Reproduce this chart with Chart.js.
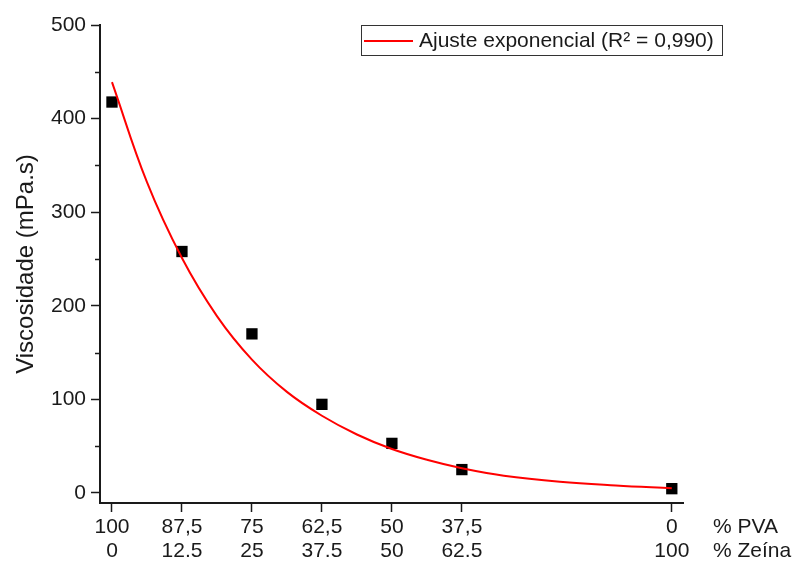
<!DOCTYPE html>
<html>
<head>
<meta charset="utf-8">
<script src="https://cdn.jsdelivr.net/npm/chart.js@4"></script>
<style>
  html, body { margin: 0; padding: 0; background: #fff; }
  #wrap { width: 794px; height: 562px; }
</style>
</head>
<body>
<div id="wrap"><canvas id="viscChart" width="794" height="562"></canvas></div>
<script>
// measured points (% Zeína on x)
const zeina = [0, 12.5, 25, 37.5, 50, 62.5, 100];
const pvaLabels = ['100', '87,5', '75', '62,5', '50', '37,5', '0'];
const zeinaLabels = ['0', '12.5', '25', '37.5', '50', '62.5', '100'];
const viscosity = [417.7, 258, 170, 94.7, 53, 25, 4.6];

// fitted curve
const fitX = [0, 6.25, 12.5, 18.75, 25, 31.25, 37.5, 43.75, 50, 56.25, 62.5, 70, 80, 90, 100];
const fitY = [439, 332, 251, 189, 142.5, 108, 82.5, 62.5, 47, 35.5, 26.5, 18.5, 12, 8, 5];

const yTicks = [0, 100, 200, 300, 400, 500];
const yMinorTicks = [50, 150, 250, 350, 450];

const fitLabel = 'Ajuste exponencial (R\u00b2 = 0,990)';
const fontFamily = '"Liberation Sans", Arial, sans-serif';
const axisColor = '#1a1a1a';

const extras = {
    id: 'extras',
    afterDraw(chart) {
        const c = chart.ctx;
        const ys = chart.scales.y;
        const area = chart.chartArea;
        c.save();
        // minor ticks on y
        c.strokeStyle = axisColor;
        c.lineWidth = 1.5;
        yMinorTicks.forEach(v => {
            const py = Math.round(ys.getPixelForValue(v)) + 0.5;
            c.beginPath();
            c.moveTo(area.left - 5, py);
            c.lineTo(area.left, py);
            c.stroke();
        });
        // row names right of the x axis
        c.fillStyle = axisColor;
        c.font = '21px ' + fontFamily;
        c.textAlign = 'left';
        c.textBaseline = 'middle';
        c.fillText('% PVA', area.right + 30, 527);
        c.fillText('% Ze\u00edna', area.right + 30, 551);
        // legend box
        const bx = 361, by = 25, bw = 361, bh = 30;
        c.strokeStyle = '#333';
        c.lineWidth = 1;
        c.strokeRect(bx + 0.5, by + 0.5, bw, bh);
        c.strokeStyle = '#ff0000';
        c.lineWidth = 2;
        c.beginPath();
        c.moveTo(bx + 3, by + 16);
        c.lineTo(bx + 52, by + 16);
        c.stroke();
        c.fillStyle = axisColor;
        c.fillText(fitLabel, bx + 58, by + 16);
        c.restore();
    }
};

const ctx = document.getElementById('viscChart');

new Chart(ctx, {
    type: 'scatter',
    data: {
        datasets: [
            {
                label: fitLabel,
                type: 'line',
                data: fitX.map((x, i) => ({ x: x, y: fitY[i] })),
                borderColor: '#ff0000',
                borderWidth: 2,
                pointRadius: 0,
                tension: 0.4,
                fill: false
            },
            {
                label: 'Viscosidade',
                data: zeina.map((x, i) => ({ x: x, y: viscosity[i] })),
                pointStyle: 'rect',
                pointRadius: 8,
                pointHoverRadius: 8,
                backgroundColor: '#000',
                borderColor: '#000',
                borderWidth: 0
            }
        ]
    },
    options: {
        responsive: false,
        animation: false,
        layout: { padding: { top: 25, right: 111, left: 0, bottom: 0 } },
        plugins: {
            legend: { display: false },
            tooltip: { enabled: false }
        },
        scales: {
            x: {
                type: 'linear',
                min: -2.14,
                max: 102,
                afterBuildTicks: (scale) => {
                    scale.ticks = zeina.map(v => ({ value: v }));
                },
                afterFit: (scale) => { scale.height = 59; },
                border: { color: axisColor, width: 2 },
                grid: { drawOnChartArea: false, tickLength: 9, tickWidth: 1.5, color: axisColor },
                ticks: {
                    autoSkip: false,
                    maxRotation: 0,
                    padding: 3,
                    color: axisColor,
                    font: { family: fontFamily, size: 21, lineHeight: 1.15 },
                    callback: (v) => {
                        const i = zeina.indexOf(v);
                        return i < 0 ? '' : [pvaLabels[i], zeinaLabels[i]];
                    }
                }
            },
            y: {
                min: -10.7,
                max: 500,
                afterBuildTicks: (scale) => {
                    scale.ticks = yTicks.map(v => ({ value: v }));
                },
                afterFit: (scale) => { scale.width = 100; },
                border: { color: axisColor, width: 2 },
                grid: { drawOnChartArea: false, tickLength: 9, tickWidth: 1.5, color: axisColor },
                ticks: {
                    padding: 5,
                    color: axisColor,
                    font: { family: fontFamily, size: 21 }
                },
                title: {
                    display: true,
                    text: 'Viscosidade (mPa.s)',
                    color: axisColor,
                    font: { family: fontFamily, size: 24 },
                    padding: { top: 12, bottom: 0 }
                }
            }
        }
    },
    plugins: [extras]
});
</script>
</body>
</html>
